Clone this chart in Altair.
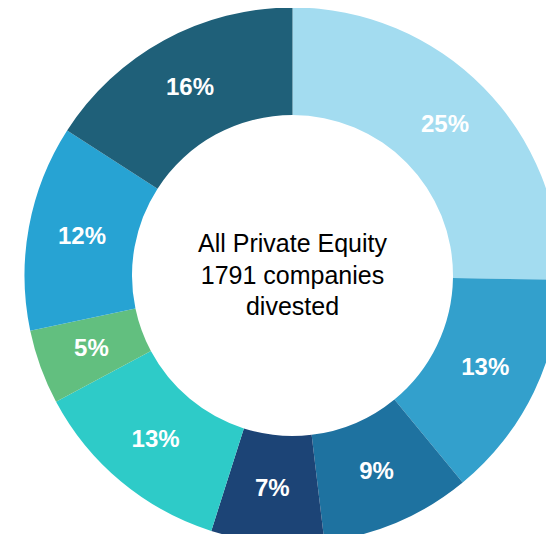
import altair as alt
import pandas as pd

segments = ["s1", "s2", "s3", "s4", "s5", "s6", "s7", "s8"]
shares = [25.25, 13.8, 9.05, 6.8, 12.3, 4.5, 12.4, 15.9]
labels = ["25%", "13%", "9%", "7%", "13%", "5%", "12%", "16%"]
colors = ["#a3dcf0", "#33a0cc", "#1e72a0", "#1c4476", "#2ecbc8", "#62bf7f", "#27a3d3", "#1f6079"]
center_lines = ["All Private Equity", "1791 companies", "divested"]

df = pd.DataFrame({"segment": segments, "share": shares, "label": labels, "order": list(range(len(segments)))})

cx = 284.5
cy = 267.5
line_h = 31.5

base = alt.Chart(df).encode(
    theta=alt.Theta("share:Q", stack=True),
    order=alt.Order("order:Q"),
    x=alt.value(cx),
    y=alt.value(cy),
)

arcs = base.mark_arc(innerRadius=160.5, outerRadius=268).encode(
    color=alt.Color("segment:N", scale=alt.Scale(domain=segments, range=colors), legend=None)
)

text = base.mark_text(
    radius=214, font="Liberation Sans", fontSize=24, fontWeight="bold", color="white"
).encode(text="label:N")

center = alt.Chart(pd.DataFrame({"k": [0]})).mark_text(
    text=center_lines, font="Liberation Sans", fontSize=25, lineHeight=line_h,
    color="black", baseline="middle", align="center"
).encode(x=alt.value(cx), y=alt.value(cy - line_h))

chart = alt.layer(arcs, text, center).properties(
    width=538, height=526, padding=0,
    autosize=alt.AutoSizeParams(type="none"),
).configure_view(stroke=None)

chart.save("out.html", embed_options={"renderer": "svg", "actions": False})
